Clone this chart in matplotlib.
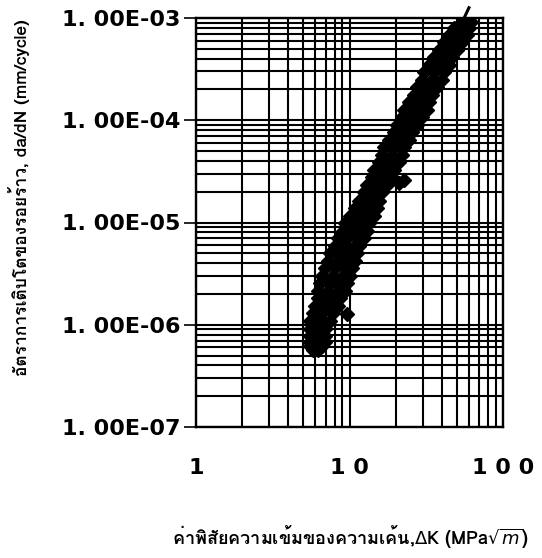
import matplotlib
matplotlib.use("Agg")
import matplotlib.pyplot as plt
from matplotlib import font_manager
from matplotlib.ft2font import FT2Font
from matplotlib.ticker import LogLocator, FixedLocator, NullFormatter

# ---- ข้อมูลที่อ่านจากกราฟ: ΔK (MPa√m) กับ da/dN (mm/cycle) ----
dk_data = [
    5.75, 6.20,
    5.50, 5.93, 6.58,
    5.50, 6.20, 6.88,
    5.50, 6.20, 6.88,
    5.50, 6.20, 6.88,
    5.50, 6.39, 7.42,
    5.75, 6.58, 7.76, 9.70,
    5.93, 6.88, 7.76, 8.36,
    6.20, 6.88, 7.99, 8.61,
    6.20, 7.20, 8.36, 9.28,
    6.39, 7.42, 8.61, 9.70,
    6.58, 7.76, 9.01, 10.0,
    6.88, 7.99, 9.28, 10.46,
    7.20, 8.36, 9.70, 10.78,
    7.42, 8.61, 10.0, 11.27,
    7.99, 9.28, 10.78, 11.61,
    8.36, 9.70, 11.27, 12.52,
    9.01, 10.46, 12.14, 13.09,
    9.28, 10.78, 12.52, 13.49,
    10.0, 11.61, 13.09, 14.53,
    10.78, 12.52, 14.53, 15.20,
    11.61, 13.49, 15.66,
    12.52, 14.53, 16.38,
    13.09, 15.20, 17.65,
    14.11, 16.38, 19.02, 21.12, 22.76,
    14.53, 16.88, 19.60,
    15.66, 18.18, 21.12,
    16.38, 19.02, 22.09,
    16.88, 19.60, 22.76,
    18.18, 21.12, 24.52,
    19.60, 22.76, 25.65,
    20.50, 23.81, 27.64,
    22.09, 25.65, 29.79,
    22.76, 26.43, 32.10,
    24.52, 28.48, 33.07,
    26.43, 30.69, 34.59,
    27.64, 32.10, 37.27,
    29.79, 34.59, 40.17,
    30.69, 35.64, 41.39,
    33.07, 38.41, 44.60,
    35.64, 41.39, 46.65,
    38.41, 44.60, 50.27,
    41.39, 48.07, 54.18,
    44.60, 51.80, 58.39,
    48.07, 55.83, 60.16,
    54.18, 61.99,
]
dadn_data = [
    5.69e-7, 5.69e-7,
    6.22e-7, 6.22e-7, 6.22e-7,
    6.81e-7, 6.81e-7, 6.81e-7,
    7.79e-7, 7.79e-7, 7.79e-7,
    9.14e-7, 9.14e-7, 9.14e-7,
    1.09e-6, 1.09e-6, 1.09e-6,
    1.31e-6, 1.31e-6, 1.31e-6, 1.27e-6,
    1.53e-6, 1.53e-6, 1.53e-6, 1.53e-6,
    1.84e-6, 1.84e-6, 1.84e-6, 1.84e-6,
    2.15e-6, 2.15e-6, 2.15e-6, 2.15e-6,
    2.58e-6, 2.58e-6, 2.58e-6, 2.58e-6,
    3.02e-6, 3.02e-6, 3.02e-6, 3.02e-6,
    3.62e-6, 3.62e-6, 3.62e-6, 3.62e-6,
    4.24e-6, 4.24e-6, 4.24e-6, 4.24e-6,
    5.08e-6, 5.08e-6, 5.08e-6, 5.08e-6,
    5.95e-6, 5.95e-6, 5.95e-6, 5.95e-6,
    7.13e-6, 7.13e-6, 7.13e-6, 7.13e-6,
    8.35e-6, 8.35e-6, 8.35e-6, 8.35e-6,
    1.00e-5, 1.00e-5, 1.00e-5, 1.00e-5,
    1.17e-5, 1.17e-5, 1.17e-5, 1.17e-5,
    1.40e-5, 1.40e-5, 1.40e-5, 1.40e-5,
    1.64e-5, 1.64e-5, 1.64e-5,
    1.97e-5, 1.97e-5, 1.97e-5,
    2.31e-5, 2.31e-5, 2.31e-5,
    2.76e-5, 2.76e-5, 2.76e-5, 2.45e-5, 2.60e-5,
    3.24e-5, 3.24e-5, 3.24e-5,
    3.88e-5, 3.88e-5, 3.88e-5,
    4.54e-5, 4.54e-5, 4.54e-5,
    5.44e-5, 5.44e-5, 5.44e-5,
    6.37e-5, 6.37e-5, 6.37e-5,
    7.63e-5, 7.63e-5, 7.63e-5,
    8.93e-5, 8.93e-5, 8.93e-5,
    1.07e-4, 1.07e-4, 1.07e-4,
    1.25e-4, 1.25e-4, 1.25e-4,
    1.50e-4, 1.50e-4, 1.50e-4,
    1.76e-4, 1.76e-4, 1.76e-4,
    2.11e-4, 2.11e-4, 2.11e-4,
    2.47e-4, 2.47e-4, 2.47e-4,
    2.96e-4, 2.96e-4, 2.96e-4,
    3.46e-4, 3.46e-4, 3.46e-4,
    4.15e-4, 4.15e-4, 4.15e-4,
    4.86e-4, 4.86e-4, 4.86e-4,
    5.82e-4, 5.82e-4, 5.82e-4,
    6.81e-4, 6.81e-4, 6.81e-4,
    7.98e-4, 7.98e-4, 7.98e-4,
    9.14e-4, 9.14e-4,
]

# เส้น fit (Paris law) ปลายสองข้าง
dk_fit = [6.0, 60.0]
dadn_fit = [7.9e-7, 1.26e-3]

x_ticks = [1, 10, 100]
x_ticklabels = ["1", "1 0", "1 0 0"]
y_ticks = [1e-7, 1e-6, 1e-5, 1e-4, 1e-3]
y_ticklabels = ["1. 00E-07", "1. 00E-06", "1. 00E-05", "1. 00E-04", "1. 00E-03"]

x_label = "ค่าพิสัยความเข้มของความเค้น,$\\Delta$K (MPa$\\sqrt{m}$)"
y_label = "อัตราการเติบโตของรอยร้าว, da/dN (mm/cycle)"


# หาฟอนต์ที่มีอักษรไทย
def has_thai(path):
    try:
        return 0x0E01 in FT2Font(path).get_charmap()
    except Exception:
        return False


thai_fonts = []
for fe in font_manager.fontManager.ttflist:
    if fe.name not in thai_fonts and has_thai(fe.fname):
        thai_fonts.append(fe.name)
label_family = thai_fonts[:1] + ["DejaVu Sans"]

fig = plt.figure(figsize=(5.42, 5.58), dpi=100)
ax = fig.add_axes([196 / 542, 1 - 427 / 558, 307 / 542, 409 / 558])

ax.plot(dk_data, dadn_data, linestyle="none", marker="D", markersize=7,
        color="black", zorder=3)
ax.plot(dk_fit, dadn_fit, color="black", linewidth=2.2, clip_on=False,
        zorder=4)

ax.set_xscale("log")
ax.set_yscale("log")
ax.set_xlim(1, 100)
ax.set_ylim(1e-7, 1e-3)

tick_font = dict(fontsize=16, fontweight="bold", family="DejaVu Sans")
ax.xaxis.set_major_locator(FixedLocator(x_ticks))
ax.set_xticklabels(x_ticklabels, **tick_font)
ax.yaxis.set_major_locator(FixedLocator(y_ticks))
ax.set_yticklabels(y_ticklabels, **tick_font)
for axis in (ax.xaxis, ax.yaxis):
    axis.set_minor_locator(LogLocator(base=10, subs=range(2, 10)))
    axis.set_minor_formatter(NullFormatter())

ax.tick_params(axis="x", which="both", length=0, pad=22)
ax.tick_params(axis="y", which="major", length=9, width=1.2, pad=2)
ax.tick_params(axis="y", which="minor", length=0)

ax.grid(True, which="both", color="black", linewidth=1.5)
ax.set_axisbelow(True)
for sp in ax.spines.values():
    sp.set_linewidth(1.7)

fig.text(19 / 542, 1 - 198 / 558, y_label, rotation=90, ha="center",
         va="center", fontsize=12.5, fontweight="bold", family=label_family)
fig.text(350 / 542, 1 - 536 / 558, x_label, ha="center", va="center",
         fontsize=13, fontweight="bold", family=label_family)

fig.savefig("out.png", dpi=100)
